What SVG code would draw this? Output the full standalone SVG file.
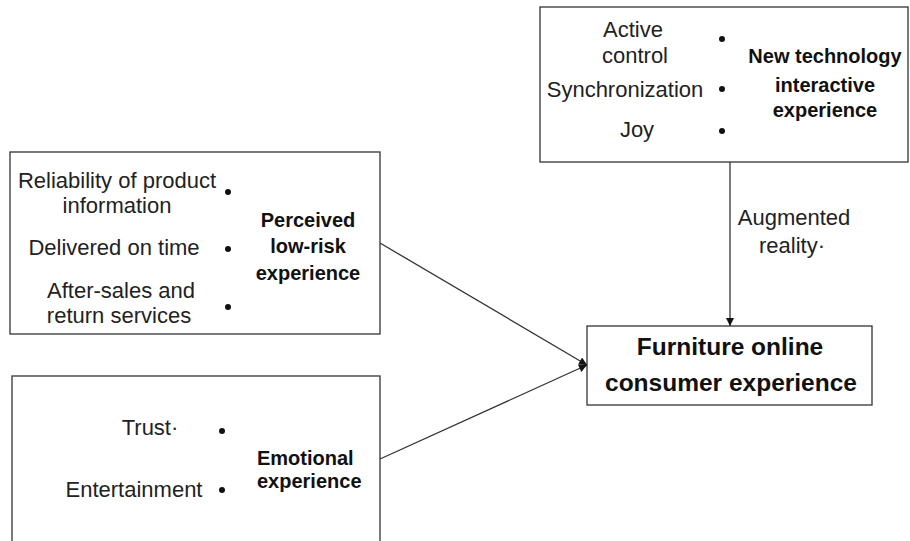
<svg xmlns="http://www.w3.org/2000/svg" width="910" height="541" viewBox="0 0 910 541">
  <style>
    .box { fill: #ffffff; stroke: #333333; stroke-width: 1.3; }
    .reg { font-family: "Liberation Sans", Arial, sans-serif; font-size: 22px; fill: #222222; text-anchor: middle; }
    .bold { font-family: "Liberation Sans", Arial, sans-serif; font-size: 20px; font-weight: bold; fill: #111111; text-anchor: middle; }
    .big { font-family: "Liberation Sans", Arial, sans-serif; font-size: 24.5px; font-weight: bold; fill: #111111; text-anchor: middle; }
    .dot { fill: #111111; }
    .conn { stroke: #333333; stroke-width: 1.3; fill: none; marker-end: url(#arrow); }
  </style>
  <defs>
    <marker id="arrow" viewBox="0 0 10 10" refX="10" refY="5" markerWidth="9" markerHeight="8" markerUnits="userSpaceOnUse" orient="auto">
      <path d="M0,0 L10,5 L0,10 z" fill="#111111"/>
    </marker>
  </defs>

  <rect width="910" height="541" fill="#ffffff"/>

  <g id="node-newtech">
    <rect class="box" x="540" y="7" width="368" height="155"/>
    <text class="reg" x="633" y="37">Active</text>
    <text class="reg" x="635" y="63">control</text>
    <text class="reg" x="625" y="97">Synchronization</text>
    <text class="reg" x="637" y="137">Joy</text>
    <circle class="dot" cx="722" cy="39" r="3"/>
    <circle class="dot" cx="722" cy="89" r="3"/>
    <circle class="dot" cx="722" cy="131" r="3"/>
    <text class="bold" x="825" y="63">New technology</text>
    <text class="bold" x="825" y="92">interactive</text>
    <text class="bold" x="825" y="117">experience</text>
  </g>

  <g id="node-lowrisk">
    <rect class="box" x="10" y="152" width="370" height="182"/>
    <text class="reg" x="117" y="188">Reliability of product</text>
    <text class="reg" x="117" y="213">information</text>
    <text class="reg" x="114" y="255">Delivered on time</text>
    <text class="reg" x="121" y="298">After-sales and</text>
    <text class="reg" x="119" y="323">return services</text>
    <circle class="dot" cx="228" cy="192" r="3"/>
    <circle class="dot" cx="228" cy="249" r="3"/>
    <circle class="dot" cx="228" cy="307" r="3"/>
    <text class="bold" x="308" y="227">Perceived</text>
    <text class="bold" x="308" y="253">low-risk</text>
    <text class="bold" x="308" y="280">experience</text>
  </g>

  <g id="node-emotional">
    <rect class="box" x="12" y="376" width="368" height="190"/>
    <text class="reg" x="150" y="435">Trust·</text>
    <text class="reg" x="134" y="497">Entertainment</text>
    <circle class="dot" cx="222" cy="431" r="3"/>
    <circle class="dot" cx="222" cy="490" r="3"/>
    <text class="bold" x="257" y="465" style="text-anchor:start">Emotional</text>
    <text class="bold" x="257" y="488" style="text-anchor:start">experience</text>
  </g>

  <g id="node-furniture">
    <rect class="box" x="587" y="326" width="285" height="79"/>
    <text class="big" x="730" y="355">Furniture online</text>
    <text class="big" x="731" y="391">consumer experience</text>
  </g>

  <g id="connectors">
    <line class="conn" x1="380" y1="243" x2="587" y2="365"/>
    <line class="conn" x1="380" y1="459" x2="587" y2="365"/>
    <line class="conn" x1="730" y1="162" x2="730" y2="326"/>
    <text class="reg" x="794" y="225">Augmented</text>
    <text class="reg" x="792" y="253">reality·</text>
  </g>
</svg>
